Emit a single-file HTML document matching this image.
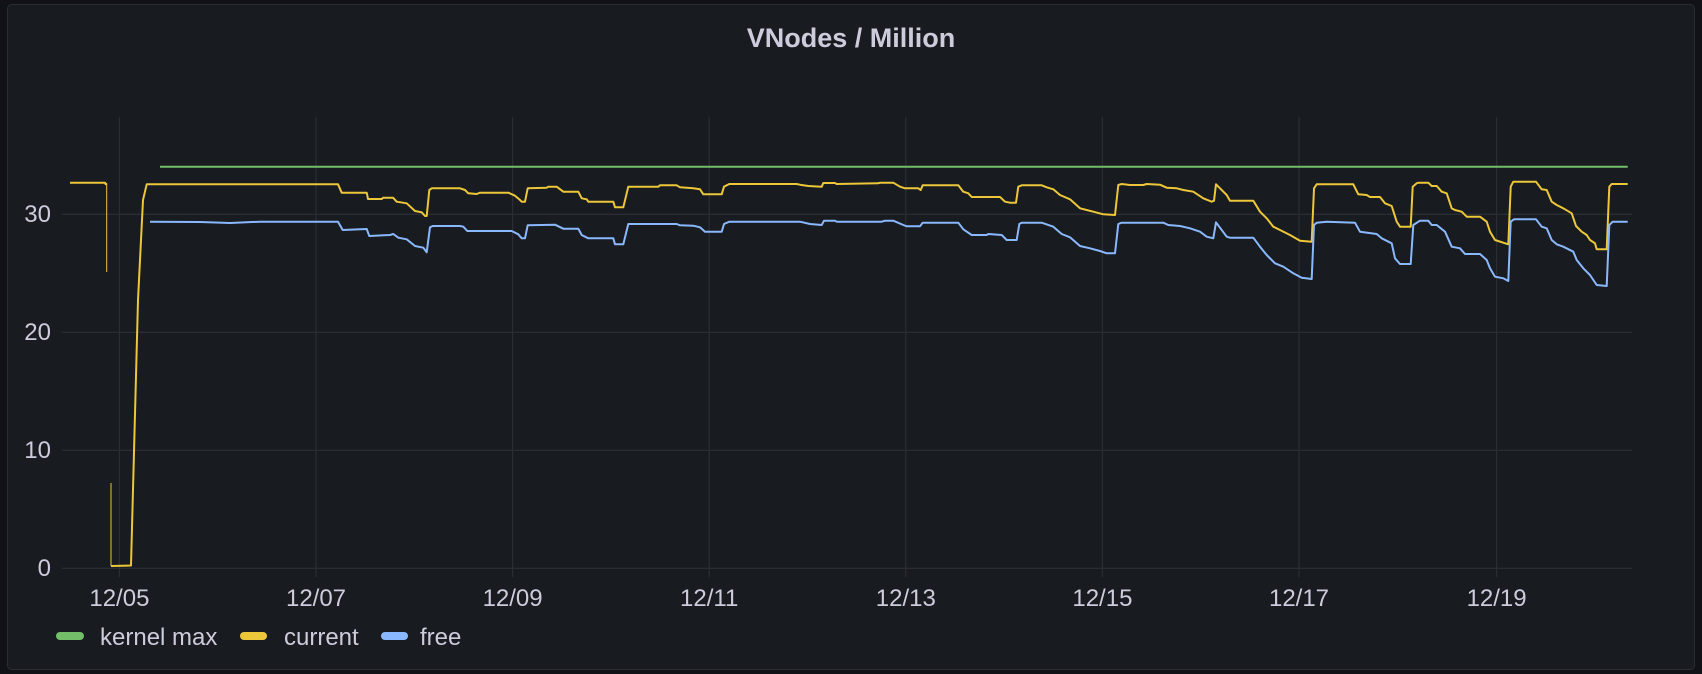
<!DOCTYPE html>
<html><head><meta charset="utf-8"><style>
html,body{margin:0;padding:0;background:#111217;}
svg{display:block;}
text{font-family:"Liberation Sans",sans-serif;fill:#ccccdc;}
</style></head><body>
<svg width="1702" height="674" viewBox="0 0 1702 674" xmlns="http://www.w3.org/2000/svg">
<rect x="0" y="0" width="1702" height="674" fill="#111217"/>
<rect x="7.5" y="4.5" width="1687" height="665" rx="4" fill="#181b1f" stroke="#2a2d33"/>
<text x="851" y="47" text-anchor="middle" font-size="27" font-weight="bold" fill="#d8d9e0">VNodes / Million</text>
<g stroke="#2a2d33" stroke-width="1.3">
<line x1="62" y1="568.3" x2="1632" y2="568.3"/>
<line x1="62" y1="450.3" x2="1632" y2="450.3"/>
<line x1="62" y1="332.3" x2="1632" y2="332.3"/>
<line x1="62" y1="214.3" x2="1632" y2="214.3"/>
<line x1="119.4" y1="117" x2="119.4" y2="577"/>
<line x1="316" y1="117" x2="316" y2="577"/>
<line x1="512.6" y1="117" x2="512.6" y2="577"/>
<line x1="709.2" y1="117" x2="709.2" y2="577"/>
<line x1="905.8" y1="117" x2="905.8" y2="577"/>
<line x1="1102.4" y1="117" x2="1102.4" y2="577"/>
<line x1="1299" y1="117" x2="1299" y2="577"/>
<line x1="1496.6" y1="117" x2="1496.6" y2="577"/>
</g>
<g font-size="24" text-anchor="end">
<text x="51" y="576">0</text>
<text x="51" y="458">10</text>
<text x="51" y="340">20</text>
<text x="51" y="222">30</text>
</g>
<g font-size="24" text-anchor="middle">
<text x="119.4" y="606">12/05</text>
<text x="316" y="606">12/07</text>
<text x="512.6" y="606">12/09</text>
<text x="709.2" y="606">12/11</text>
<text x="905.8" y="606">12/13</text>
<text x="1102.4" y="606">12/15</text>
<text x="1299" y="606">12/17</text>
<text x="1496.6" y="606">12/19</text>
</g>
<line x1="160" y1="166.7" x2="1627.7" y2="166.7" stroke="#73bf69" stroke-width="2"/>
<polyline fill="none" stroke="#ecc73a" stroke-width="1" points="106.7,183 106.7,272"/>
<polyline fill="none" stroke="#ecc73a" stroke-width="1" points="111,483 111,566"/>
<polyline fill="none" stroke="#ecc73a" stroke-width="2" stroke-linejoin="round" points="70,182.7 105,182.7 106,185"/>
<polyline fill="none" stroke="#ecc73a" stroke-width="2" stroke-linejoin="round" points="111,566 131,565.5 138,300 143,200 146.7,184.3 338,184.3 341.7,192.7 366.7,192.7 368,199 381.7,199 383,197.7 393,197.7 396.7,201.7 406.7,203.3 415,211 421.7,212.3 425,216 426.7,216 429.3,190 431.7,188.3 460,188.3 465,190 468.3,193.3 476.7,194 480,192.7 508.3,192.7 515,195.7 520,200 521.7,201.7 525,201.7 527.7,188.3 546.7,187.7 548.3,186.7 556.7,186.7 563.3,191.7 578.3,191.7 581.7,198.3 586.7,199.3 588.3,201.7 613.3,201.7 615,207.3 623.3,207.3 628.3,186.7 658.3,186.7 660,185.3 676.7,185.3 680,187.3 693.3,188.3 700,189.3 703.3,194.3 721.7,194.3 724,186.7 729.3,184 796.7,184 800,184.7 808.3,186 821.7,186.7 823.3,183 835,183 836.7,184 878.3,183.3 880,182.7 893.3,182.7 900,186.7 905,188.3 918.3,188.3 920.7,190 922.7,185.3 958.3,185.3 963.3,191.7 968.3,193.3 971.7,197 1000,197 1005,201.7 1010,202.7 1016,202.7 1018.3,186.7 1021.7,185.3 1041.7,185.3 1046.7,187.3 1053.3,189.3 1060,195 1070,199.3 1080,208.3 1086.7,210 1093.3,211.7 1103.3,214.3 1115,215 1118.3,185 1121.7,184 1130,185 1143.3,185 1146.7,184 1160,184.7 1166.7,187.7 1176.7,188.3 1183.3,190 1193.3,191.7 1203.3,198.3 1211.7,201.7 1214,200.7 1216,184.3 1220,188.3 1226.7,195 1230,200.7 1253.3,200.7 1260,211.7 1266.7,218.3 1273.3,226.7 1280,230 1290,235 1300,240.7 1311.7,241.7 1314,188.3 1316.7,184.3 1353.3,184.3 1358.3,194.3 1366.7,195 1370,197 1380,197 1385,203.3 1391.7,206 1396.7,221.7 1400,226.7 1410.7,226.7 1412.7,186.7 1416.7,183.3 1418.3,182.7 1428.3,182.7 1431.7,186 1436.7,186 1441.7,191.7 1446.7,193.3 1451.7,208.3 1455,210 1461.7,211.7 1466.7,216.7 1480,216.7 1486.7,221.7 1490,231.7 1495,240 1508.3,244.3 1510.7,186.7 1513.3,181.7 1536,181.7 1541.7,189.3 1546.7,190 1551.7,201.7 1556.7,205 1563.3,208.3 1571.7,213.3 1576,226 1581.7,231.7 1586.7,235 1590,240 1595,243.3 1596.7,249.3 1606.7,249.3 1609.3,186.7 1611.7,184 1627.7,184"/>
<polyline fill="none" stroke="#8ab8ff" stroke-width="2" stroke-linejoin="round" points="150,221.7 200,222 230,223 260,221.7 338,221.7 342.7,230 366.7,229 369.3,236 390,235 393.3,234 398.3,237.7 406.7,239.3 415,246 423.3,247.7 426.7,252.3 430,227.3 432.7,226 460,226 463.3,226.7 467.3,231 511.7,231 518.3,234.3 521.7,238.3 525,238.3 527.7,225.3 555,224.7 563.3,228.7 578.3,228.7 581.7,235 588.3,238.3 613.3,238.3 615,244.3 623.3,244.3 628.3,224 676.7,224 680,225.3 693.3,225.7 700,227.3 705,231.7 721.7,231.7 724,224 729.3,221.7 800,221.7 810,224 821.7,225 824,220.7 835,220.7 836.7,221.7 881.7,221.7 885,220.7 893.3,220.7 903.3,225 906.7,226.3 920,226.3 922.7,222.7 958.3,222.7 963.3,229.3 971.7,235 986.7,235 988.3,234 1001.7,235 1006.7,240 1016.7,240 1019.3,224 1021.7,222.7 1041.7,222.7 1053.3,226.7 1061.7,234 1070,237.3 1080,246 1090,248.3 1100,251 1106.7,253.3 1115,253.3 1118.3,224 1121.7,222.7 1163.3,222.7 1168.3,225 1180,226 1190,228.3 1200,231.7 1206.7,236.7 1213.3,238.3 1216,222.3 1226.7,236.7 1230,237.7 1253.3,237.7 1260,246.7 1266.7,255 1275,263.3 1283.3,266.7 1293.3,273.3 1301.7,277.7 1311.7,279 1314,225 1316.7,222.7 1326.7,221.7 1355,222.7 1360,231.7 1376.7,234 1381.7,238.3 1391.7,243.3 1395,258.3 1400,264 1410.7,264 1413.3,225 1420,220.7 1428.3,220.7 1431.7,225 1436.7,225 1445,231.7 1451.7,246.7 1460,248.3 1465,254 1480,254 1486.7,260 1490,268.3 1495,276.7 1503.3,278.3 1508.3,281 1510.7,221.7 1514,219.3 1536,219.3 1541.7,226.7 1546.7,228.3 1551.7,240 1556.7,244.3 1563.3,246.7 1573.3,251.7 1576.7,260 1583.3,268.3 1590,275 1596.7,285 1606.7,286 1609.3,225 1612.7,221.7 1627.7,221.7"/>
<rect x="56" y="632" width="28" height="8" rx="4" fill="#73bf69"/>
<text x="100" y="645" font-size="24">kernel max</text>
<rect x="240" y="632" width="27" height="8" rx="4" fill="#ecc73a"/>
<text x="284" y="645" font-size="24">current</text>
<rect x="381" y="632" width="27" height="8" rx="4" fill="#8ab8ff"/>
<text x="420" y="645" font-size="24">free</text>
</svg>
</body></html>
